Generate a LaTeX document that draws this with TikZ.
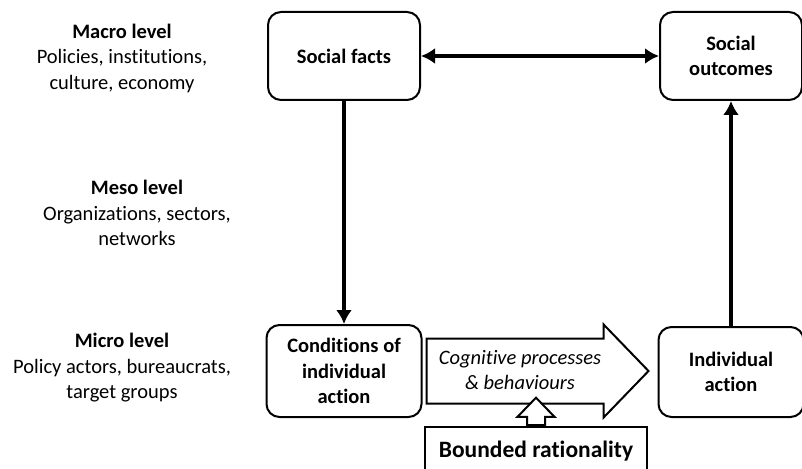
\documentclass[tikz,border=0pt]{standalone}
\usepackage{fontspec}
\setmainfont{Carlito}[Ligatures=NoCommon]
\usetikzlibrary{positioning,arrows.meta,shapes.arrows}

\begin{document}
\begin{tikzpicture}[
x=1pt,y=1pt,
>={Latex[length=14pt,width=16pt]},
block/.style={
draw,
line width=2pt,
rounded corners=13pt,
align=center,
inner sep=0pt,
font=\fontsize{20.5}{25.5}\selectfont\bfseries
},
level/.style={
align=center,
font=\fontsize{20.5}{25.5}\selectfont
},
blockarrow/.style={
single arrow,
draw,
fill=white,
line width=2pt,
inner xsep=0pt
},
link/.style={line width=4pt}
]

\useasboundingbox (0,0) rectangle (802,-468);

%%%%%%%%%%%%%%%%%%%%%%%%%%%%%%%%%%%%%%%%%%%%%
% Levels
%%%%%%%%%%%%%%%%%%%%%%%%%%%%%%%%%%%%%%%%%%%%%

\node[level] (macro) at (122,-58)
{\textbf{Macro level}\\Policies, institutions,\\culture, economy};

\node[level] (meso) at (137,-213)
{\textbf{Meso level}\\Organizations, sectors,\\networks};

\node[level] (micro) at (122,-368)
{\textbf{Micro level}\\Policy actors, bureaucrats,\\target groups};

%%%%%%%%%%%%%%%%%%%%%%%%%%%%%%%%%%%%%%%%%%%%%
% Main Blocks
%%%%%%%%%%%%%%%%%%%%%%%%%%%%%%%%%%%%%%%%%%%%%

\node[block,minimum width=152pt,minimum height=88pt] (facts) at (344,-56)
{Social facts};

\node[block,minimum width=142pt,minimum height=88pt,right=238pt of facts] (outcomes)
{Social\\outcomes};

\node[block,minimum width=155pt,minimum height=92pt,below=223pt of facts] (conditions)
{Conditions of\\individual\\action};

\node[block,minimum width=145pt,minimum height=90pt,below=225pt of outcomes] (action)
{Individual\\action};

%%%%%%%%%%%%%%%%%%%%%%%%%%%%%%%%%%%%%%%%%%%%%
% Process
%%%%%%%%%%%%%%%%%%%%%%%%%%%%%%%%%%%%%%%%%%%%%

\node[blockarrow,
inner ysep=31.5pt,
single arrow head extend=14pt,
single arrow tip angle=92,
minimum height=222pt,
right=3pt of conditions] (process) {};

\node[level,font=\fontsize{20.5}{25.5}\selectfont\itshape] (proctext) at (520,-370)
{Cognitive processes\\\& behaviours};

\node[draw,line width=2pt,minimum width=222pt,minimum height=48pt,
font=\fontsize{23.5}{28}\selectfont\bfseries,anchor=north] (bounded) at (536,-426)
{Bounded rationality};

\node[blockarrow,
inner sep=8pt,
shape border rotate=90,
single arrow head extend=9.5pt,
single arrow tip angle=88,
minimum height=26pt,
above=0pt of bounded] (push) {};

%%%%%%%%%%%%%%%%%%%%%%%%%%%%%%%%%%%%%%%%%%%%%
% Connections
%%%%%%%%%%%%%%%%%%%%%%%%%%%%%%%%%%%%%%%%%%%%%

\draw[<->,link] (facts)--(outcomes);

\draw[->,link] (facts.south)--(facts.south|-conditions.north);

\draw[->,link] (action.north)--(action.north|-outcomes.south);

\end{tikzpicture}
\end{document}
